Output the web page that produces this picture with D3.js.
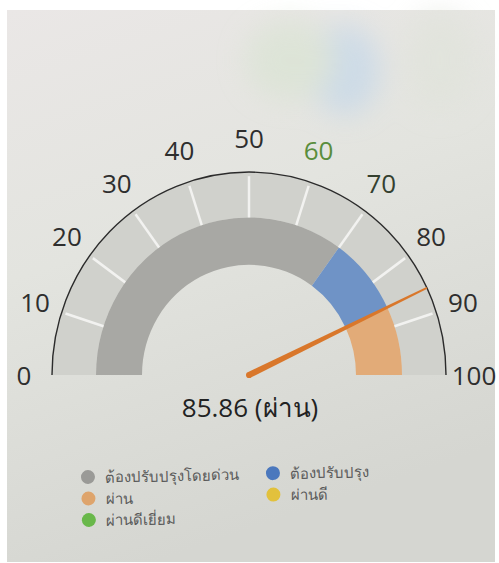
<!DOCTYPE html>
<html>
<head>
<meta charset="utf-8">
<script src="https://cdn.jsdelivr.net/npm/d3@7"></script>
<style>
  html, body { margin: 0; padding: 0; background: #fff; }
  svg { display: block; }
</style>
</head>
<body>
<div id="chart"></div>
<script>
// gauge data
const tickValues = [0, 10, 20, 30, 40, 50, 60, 70, 80, 90, 100];
const bandNames = ["ต้องปรับปรุงโดยด่วน", "ต้องปรับปรุง", "ผ่าน"];
const bandFrom = [0, 70, 85.86];
const bandTo = [70, 85.86, 100];
const score = 85.86;
const scoreLabel = "ผ่าน";
const legendLabels = ["ต้องปรับปรุงโดยด่วน", "ต้องปรับปรุง", "ผ่าน", "ผ่านดี", "ผ่านดีเยี่ยม"];

const W = 499, H = 563;
const cx = 249, cy = 375;
const rOuter = 197, rMid = 153, rInner = 107;
const stretchY = 1.03; // the photo is taken slightly from below

const bandColors = ["#a8a8a4", "#6f93c6", "#e2ab78"];
const legendColors = ["#9a9a97", "#4b78bd", "#dea46c", "#e2c13c", "#69b84a"];
const labelColor = { 60: "#5a8d3c", 70: "#34402f" };
const font = "'Open Sans', 'Noto Sans', sans-serif";

const svg = d3.select("#chart")
    .append("svg")
    .attr("width", W)
    .attr("height", H);

const defs = svg.append("defs");
const bg = defs.append("linearGradient")
    .attr("id", "bg")
    .attr("x1", "0%").attr("y1", "0%")
    .attr("x2", "30%").attr("y2", "100%");
bg.selectAll("stop")
    .data([["0%", "#eae7e6"], ["45%", "#e3e4df"], ["100%", "#d5d6d1"]])
    .enter().append("stop")
    .attr("offset", d => d[0])
    .attr("stop-color", d => d[1]);

const blur = defs.append("filter").attr("id", "blur")
    .attr("x", "-50%").attr("y", "-50%").attr("width", "200%").attr("height", "200%");
blur.append("feGaussianBlur").attr("stdDeviation", 14);

// photo area (white frame around it)
svg.append("rect")
    .attr("x", 7).attr("y", 10)
    .attr("width", 488).attr("height", 552)
    .style("fill", "url(#bg)");

// soft reflections in the top part of the photo
const glare = svg.append("g").style("filter", "url(#blur)").attr("opacity", 0.55);
glare.append("ellipse").attr("cx", 345).attr("cy", 70).attr("rx", 35).attr("ry", 45).attr("fill", "#b9d3ec");
glare.append("ellipse").attr("cx", 290).attr("cy", 60).attr("rx", 45).attr("ry", 40).attr("fill", "#d6e3cf");
glare.append("ellipse").attr("cx", 440).attr("cy", 60).attr("rx", 35).attr("ry", 50).attr("fill", "#dfe3d9");

const angle = d3.scaleLinear()
    .domain([0, 100])
    .range([-Math.PI / 2, Math.PI / 2]);

const g = svg.append("g")
    .attr("transform", `translate(${cx},${cy}) scale(1,${stretchY})`);

// outer light band
g.append("path")
    .attr("d", d3.arc()({
        innerRadius: rMid, outerRadius: rOuter,
        startAngle: angle(0), endAngle: angle(100)
    }))
    .attr("fill", "#d0d1cc");

// inner coloured bands
const arcInner = d3.arc().innerRadius(rInner).outerRadius(rMid);
g.selectAll(".band")
    .data(bandNames)
    .enter().append("path")
    .attr("class", "band")
    .attr("d", (d, i) => arcInner({ startAngle: angle(bandFrom[i]), endAngle: angle(bandTo[i]) }))
    .attr("fill", (d, i) => bandColors[i]);

// tick marks across the outer band
const pt = (v, r) => [r * Math.sin(angle(v)), -r * Math.cos(angle(v))];
g.selectAll(".tick")
    .data(tickValues.filter(v => v > 0 && v < 100))
    .enter().append("line")
    .attr("class", "tick")
    .attr("x1", d => pt(d, rMid)[0])
    .attr("y1", d => pt(d, rMid)[1])
    .attr("x2", d => pt(d, rOuter - 4)[0])
    .attr("y2", d => pt(d, rOuter - 4)[1])
    .attr("stroke", "#f2f2f0")
    .attr("stroke-width", 2.5);

// thin outline along the outside
g.append("path")
    .attr("d", d3.arc()({
        innerRadius: rOuter, outerRadius: rOuter,
        startAngle: angle(0), endAngle: angle(100)
    }))
    .attr("fill", "none")
    .attr("stroke", "#2b2b2b")
    .attr("stroke-width", 1.4);

// needle, tapered from the hub to the rim
const a = angle(score);
const ux = Math.sin(a), uy = -Math.cos(a);
const nx = -uy, ny = ux;
const needle = [
    [nx * 3, ny * 3],
    [ux * rOuter + nx * 0.9, uy * rOuter + ny * 0.9],
    [ux * rOuter - nx * 0.9, uy * rOuter - ny * 0.9],
    [-nx * 3, -ny * 3]
];
g.append("path")
    .attr("d", d3.line()(needle) + "Z")
    .attr("fill", "#d9772b");
g.append("circle")
    .attr("r", 3)
    .attr("fill", "#d9772b");

// tick labels (outside the stretched group so text keeps its shape)
svg.append("g")
    .attr("transform", `translate(${cx},${cy})`)
    .selectAll(".lbl")
    .data(tickValues)
    .enter().append("text")
    .attr("class", "lbl")
    .attr("x", d => pt(d, 225)[0])
    .attr("y", d => pt(d, 237)[1])
    .attr("text-anchor", "middle")
    .attr("dominant-baseline", "central")
    .attr("font-family", font)
    .attr("font-size", "26px")
    .attr("fill", d => labelColor[d] || "#2e2e2e")
    .text(d => d);

// value text
svg.append("text")
    .attr("x", cx + 1)
    .attr("y", 417)
    .attr("text-anchor", "middle")
    .attr("font-family", font)
    .attr("font-size", "26px")
    .attr("fill", "#222")
    .text(`${score} (${scoreLabel})`);

// legend, two columns
const legend = svg.append("g")
    .attr("transform", "translate(88,477) rotate(-1.2)");
const item = legend.selectAll(".item")
    .data(legendLabels)
    .enter().append("g")
    .attr("class", "item")
    .attr("transform", (d, i) => {
        const col = i % 2 === 1 && i < 4 ? 1 : 0;
        const row = [0, 0, 1, 1, 2][i];
        return `translate(${col * 185},${row * 21.5})`;
    });
item.append("circle")
    .attr("r", 7)
    .attr("fill", (d, i) => legendColors[i]);
item.append("text")
    .attr("x", 17)
    .attr("dominant-baseline", "central")
    .attr("font-family", font)
    .attr("font-size", "15px")
    .attr("fill", "#5a5a5a")
    .text(d => d);
</script>
</body>
</html>
